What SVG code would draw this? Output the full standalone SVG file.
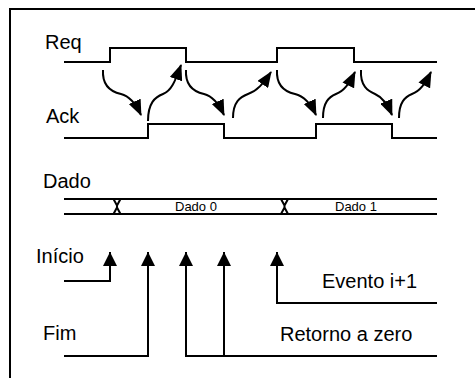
<svg xmlns="http://www.w3.org/2000/svg" width="475" height="378" viewBox="0 0 475 378">
<style>
.lbl{font-family:"Liberation Sans",Arial,sans-serif;font-size:20px;fill:#000}
.small{font-family:"Liberation Sans",Arial,sans-serif;font-size:13px;fill:#000}
.sig{fill:none;stroke:#000;stroke-width:2}
.cur{fill:none;stroke:#000;stroke-width:2;marker-end:url(#ah)}
.up{fill:none;stroke:#000;stroke-width:2;marker-end:url(#tri)}
</style>
<defs>
<marker id="ah" markerUnits="userSpaceOnUse" markerWidth="16" markerHeight="13" viewBox="0 0 16 13" refX="15" refY="6.5" orient="auto">
<path d="M0,0 L16,6.5 L0,13 z" fill="#000"/>
</marker>
<marker id="tri" markerUnits="userSpaceOnUse" markerWidth="14" markerHeight="15" viewBox="0 0 14 15" refX="14" refY="7" orient="auto">
<path d="M0,0 L14,7 L0,14 z" fill="#000"/>
</marker>
</defs>
<g id="frame">
<path class="sig" d="M10,378 V9 H475"/>
</g>
<g id="req">
<text class="lbl" x="45" y="49">Req</text>
<path class="sig" d="M64,62 H110 V48 H186 V62 H277 V48 H354 V62 H437"/>
</g>
<g id="ack">
<text class="lbl" x="46" y="123">Ack</text>
<path class="sig" d="M64,138 H148 V124 H224 V138 H316 V124 H392 V138 H437"/>
</g>
<g id="dado">
<text class="lbl" x="43" y="188">Dado</text>
<path class="sig" d="M64,199 H437 M64,214 H437"/>
<path class="sig" d="M113.5,199 L117,205.5 L117,207.5 L113.5,214 M120.5,199 L117,205.5 M117,207.5 L120.5,214"/>
<path class="sig" d="M281,199 L284.5,205.5 L284.5,207.5 L281,214 M288,199 L284.5,205.5 M284.5,207.5 L288,214"/>
<text class="small" x="175" y="211">Dado 0</text>
<text class="small" x="335" y="211">Dado 1</text>
</g>
<g id="inicio">
<text class="lbl" x="36" y="263">Início</text>
</g>
<g id="fim">
<text class="lbl" x="43" y="340">Fim</text>
</g>
<g id="evento">
<text class="lbl" x="322" y="288">Evento i+1</text>
</g>
<g id="retorno">
<text class="lbl" x="280" y="341">Retorno a zero</text>
</g>
<g id="connectors">
<path class="cur" d="M103,70 C102,87 112,92 121,94 C129,96 135,102 141,115"/>
<path class="cur" d="M186,70 C185,87 195,92 204,94 C212,96 218,102 224,115"/>
<path class="cur" d="M277,70 C276,87 286,92 295,94 C303,96 310,102 316,115"/>
<path class="cur" d="M361,70 C360,86 368,91 375,94 C382,97 387,103 392,115"/>
<path class="cur" d="M148,121 C148,103 155,97 163,94 C171,91 175,82 181,65"/>
<path class="cur" d="M233,118 C233,102 240,97 248,94 C257,91 263,84 271,72"/>
<path class="cur" d="M323,118 C323,102 329,97 336,94 C344,91 349,84 355,72"/>
<path class="cur" d="M399,118 C399,102 405,97 412,94 C420,91 425,84 431,72"/>
<path class="up" d="M64,281 H110 V252"/>
<path class="up" d="M64,356 H148 V252"/>
<path class="up" d="M437,356 H186 V252"/>
<path class="up" d="M224,356 V252"/>
<path class="up" d="M437,303 H277 V252"/>
</g>
</svg>
